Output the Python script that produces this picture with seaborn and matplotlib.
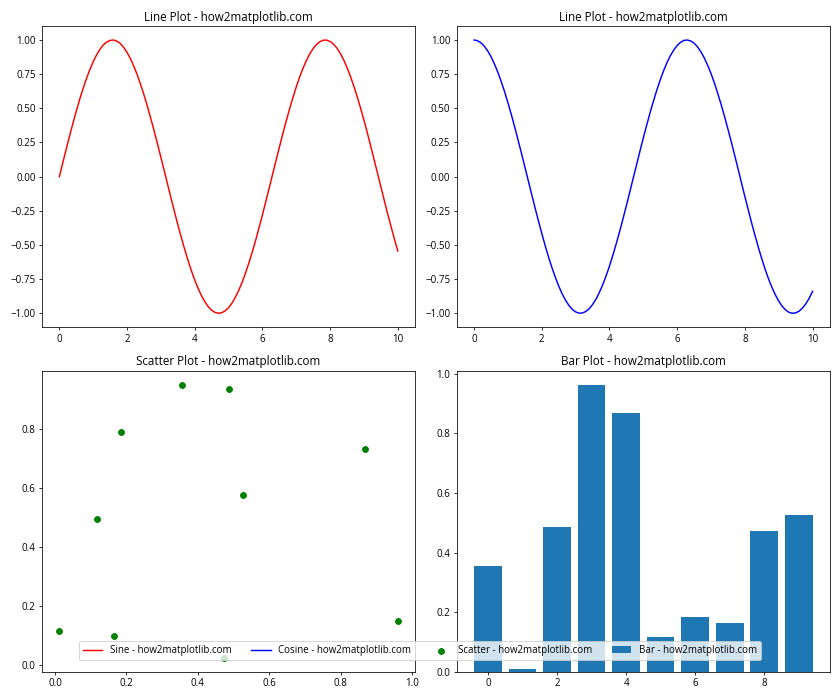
import matplotlib
matplotlib.use("Agg")
import matplotlib.pyplot as plt
import seaborn as sns

plt.rcParams['font.family'] = ['Open Sans', 'DejaVu Sans']

# line data, every 0.1 on x
line_x = [round(i * 0.1, 1) for i in range(101)]
sine_y = [0.000, 0.100, 0.199, 0.296, 0.389, 0.479, 0.565, 0.644, 0.717, 0.783,
          0.841, 0.891, 0.932, 0.964, 0.985, 0.997, 1.000, 0.992, 0.974, 0.946,
          0.909, 0.863, 0.808, 0.746, 0.675, 0.598, 0.516, 0.427, 0.335, 0.239,
          0.141, 0.042, -0.058, -0.158, -0.256, -0.351, -0.443, -0.530, -0.612, -0.688,
          -0.757, -0.818, -0.872, -0.916, -0.952, -0.978, -0.994, -1.000, -0.996, -0.982,
          -0.959, -0.926, -0.883, -0.832, -0.773, -0.706, -0.631, -0.551, -0.465, -0.374,
          -0.279, -0.182, -0.083, 0.017, 0.117, 0.215, 0.312, 0.405, 0.494, 0.578,
          0.657, 0.729, 0.794, 0.851, 0.899, 0.938, 0.968, 0.988, 0.999, 0.999,
          0.989, 0.970, 0.941, 0.902, 0.855, 0.798, 0.734, 0.662, 0.585, 0.501,
          0.412, 0.319, 0.223, 0.124, 0.025, -0.075, -0.174, -0.272, -0.366, -0.458,
          -0.544]
cosine_y = [1.000, 0.995, 0.980, 0.955, 0.921, 0.878, 0.825, 0.765, 0.697, 0.622,
            0.540, 0.454, 0.362, 0.267, 0.170, 0.071, -0.029, -0.129, -0.227, -0.323,
            -0.416, -0.505, -0.589, -0.666, -0.737, -0.801, -0.857, -0.904, -0.942, -0.971,
            -0.990, -0.999, -0.998, -0.987, -0.967, -0.936, -0.897, -0.848, -0.791, -0.726,
            -0.654, -0.575, -0.490, -0.401, -0.307, -0.211, -0.112, -0.012, 0.087, 0.187,
            0.284, 0.378, 0.469, 0.554, 0.635, 0.709, 0.776, 0.835, 0.886, 0.927,
            0.960, 0.983, 0.997, 1.000, 0.993, 0.977, 0.950, 0.914, 0.869, 0.815,
            0.754, 0.685, 0.608, 0.526, 0.439, 0.347, 0.253, 0.155, 0.055, -0.046,
            -0.146, -0.243, -0.339, -0.431, -0.519, -0.602, -0.679, -0.749, -0.811, -0.865,
            -0.911, -0.948, -0.975, -0.993, -1.000, -0.997, -0.985, -0.962, -0.931, -0.890,
            -0.839]

# scatter points
scatter_x = [0.012, 0.118, 0.165, 0.185, 0.355, 0.472, 0.486, 0.525, 0.868, 0.960]
scatter_y = [0.115, 0.494, 0.098, 0.790, 0.949, 0.023, 0.936, 0.576, 0.732, 0.148]

# bars
bar_x = [0, 1, 2, 3, 4, 5, 6, 7, 8, 9]
bar_y = [0.354, 0.009, 0.485, 0.961, 0.870, 0.116, 0.183, 0.163, 0.472, 0.525]

fig, axs = plt.subplots(2, 2, figsize=(12, 10), dpi=70)

sns.lineplot(x=line_x, y=sine_y, color='red', label='Sine - how2matplotlib.com', ax=axs[0, 0])
axs[0, 0].set_title('Line Plot - how2matplotlib.com')

sns.lineplot(x=line_x, y=cosine_y, color='blue', label='Cosine - how2matplotlib.com', ax=axs[0, 1])
axs[0, 1].set_title('Line Plot - how2matplotlib.com')

sns.scatterplot(x=scatter_x, y=scatter_y, color='green', s=36, edgecolor='green', linewidth=1,
                label='Scatter - how2matplotlib.com', ax=axs[1, 0])
axs[1, 0].set_title('Scatter Plot - how2matplotlib.com')

sns.barplot(x=bar_x, y=bar_y, native_scale=True, color='#1f77b4', saturation=1,
            label='Bar - how2matplotlib.com', ax=axs[1, 1])
axs[1, 1].set_title('Bar Plot - how2matplotlib.com')

handles, labels = [], []
for ax in axs.flat:
    h, l = ax.get_legend_handles_labels()
    handles += h
    labels += l
    if ax.get_legend() is not None:
        ax.get_legend().remove()

plt.tight_layout()
fig.legend(handles, labels, loc='lower center', ncol=4, bbox_to_anchor=(0.5, 0.05))

plt.savefig('out.png')
